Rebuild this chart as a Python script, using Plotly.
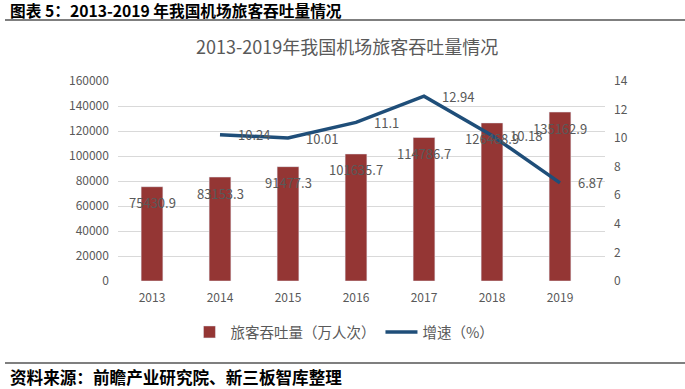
import plotly.graph_objects as go

years = ["2013", "2014", "2015", "2016", "2017", "2018", "2019"]
throughput = [75430.9, 83153.3, 91477.3, 101635.7, 114786.7, 126468.9, 135162.9]
growth = [None, 10.24, 10.01, 11.1, 12.94, 10.18, 6.87]
growth_labels = ["", "10.24", "10.01", "11.1", "12.94", "10.18", "6.87"]
bar_labels = [f"{v:.1f}" for v in throughput]

BAR = "#943634"
LINE = "#1F4E79"
GRAY = "#595959"
FONT = "Noto Sans CJK SC"

fig = go.Figure()
fig.add_trace(go.Bar(x=years, y=throughput, name="旅客吞吐量（万人次）",
                     marker_color=BAR, width=0.32, yaxis="y"))
fig.add_trace(go.Scatter(x=years, y=growth, name="增速（%）", mode="lines",
                         line=dict(color=LINE, width=3.5),
                         yaxis="y2", connectgaps=False))

# bar value labels: category axis uses serial index for annotations
for i, (v, lab) in enumerate(zip(throughput, bar_labels)):
    fig.add_annotation(x=i, y=v, xref="x", yref="y", text=lab, showarrow=False,
                       yshift=-16, yanchor="middle",
                       font=dict(color=GRAY, size=13, family=FONT))
# growth labels
for i, (g, lab) in enumerate(zip(growth, growth_labels)):
    if g is None:
        continue
    fig.add_annotation(x=i, y=g, xref="x", yref="y2", text=lab, showarrow=False,
                       xanchor="left", yanchor="middle", xshift=16,
                       font=dict(color=GRAY, size=13, family=FONT))

fig.update_layout(
    width=685, height=389,
    margin=dict(l=118, r=80, t=81, b=108, autoexpand=False),
    paper_bgcolor="white", plot_bgcolor="white",
    font=dict(family=FONT, color=GRAY, size=12),
    xaxis=dict(type="category", showgrid=False, showline=False, ticks="",
               ticklabelstandoff=8, tickfont=dict(size=12, color=GRAY)),
    yaxis=dict(range=[0, 160000], dtick=20000, tickformat="d", showgrid=True,
               gridcolor="#D9D9D9", zeroline=False, tickfont=dict(size=12, color=GRAY),
               ticksuffix="   ", showline=False),
    yaxis2=dict(range=[0, 14], dtick=2, overlaying="y", side="right", showgrid=False,
                zeroline=False, tickfont=dict(size=12, color=GRAY), tickprefix="   "),
    legend=dict(orientation="h", x=0.464, xanchor="center", y=-0.175, yanchor="top",
                font=dict(size=14.5, color=GRAY, family=FONT), traceorder="normal",
                itemwidth=32),
    showlegend=True,
)

def px_to_paper_y(py):
    return (281 - py) / 200.0
def px_to_paper_x(px):
    return (px - 118) / 487.0

fig.add_annotation(text="2013-2019年我国机场旅客吞吐量情况", xref="paper", yref="paper",
                   x=px_to_paper_x(347), y=px_to_paper_y(46), showarrow=False,
                   xanchor="center", yanchor="middle",
                   font=dict(size=18, color=GRAY, family=FONT))
fig.add_annotation(text="<b>图表 5：2013-2019 年我国机场旅客吞吐量情况</b>",
                   xref="paper", yref="paper", x=px_to_paper_x(8), y=px_to_paper_y(10),
                   xanchor="left", yanchor="middle", showarrow=False,
                   font=dict(size=15.7, color="black", family=FONT))
fig.add_annotation(text="<b>资料来源：前瞻产业研究院、新三板智库整理</b>",
                   xref="paper", yref="paper", x=px_to_paper_x(8), y=px_to_paper_y(377),
                   xanchor="left", yanchor="middle", showarrow=False,
                   font=dict(size=16.6, color="black", family=FONT))

fig.add_shape(type="line", xref="paper", yref="paper",
              x0=px_to_paper_x(5), x1=px_to_paper_x(685), y0=px_to_paper_y(20), y1=px_to_paper_y(20),
              line=dict(color="#7F7F7F", width=2))
fig.add_shape(type="line", xref="paper", yref="paper",
              x0=px_to_paper_x(5), x1=px_to_paper_x(685), y0=px_to_paper_y(363), y1=px_to_paper_y(363),
              line=dict(color="#7F7F7F", width=2))

fig.write_html("out.html", config={"displayModeBar": False},
               post_script="document.body.style.margin='0';document.body.style.overflow='hidden';")
